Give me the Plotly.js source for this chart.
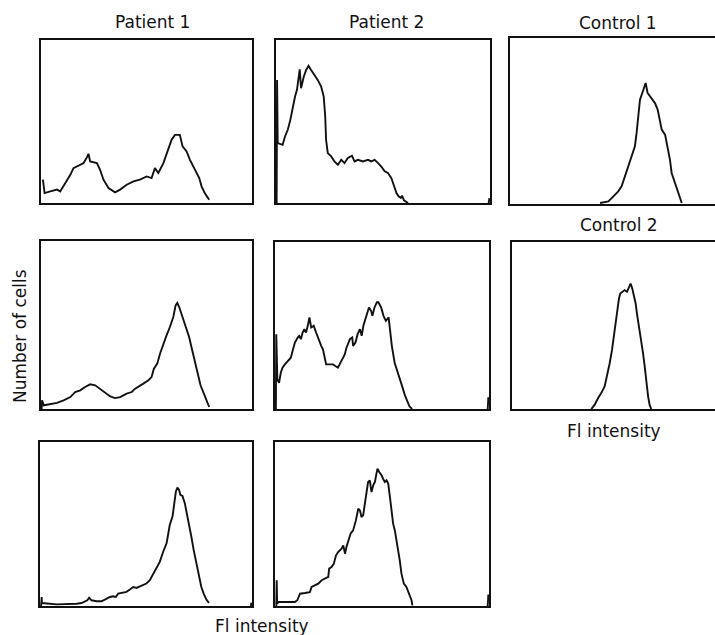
<!DOCTYPE html>
<html>
<head>
<meta charset="utf-8">
<script src="https://cdn.plot.ly/plotly-3.0.1.min.js"></script>
<style>
  html, body { margin: 0; padding: 0; overflow: hidden; background: #fff; }
  #chart { width: 724px; height: 635px; }
</style>
</head>
<body>
<div id="chart"></div>
<script>
// Fluorescence-intensity channel (0-100 % of axis) and relative cell counts (0-100 % of axis)
// null entries separate the small end-of-scale blip from the main histogram
const patient1_a_x = [0.9,1.7,4.4,7.6,9.1,11.5,13.9,15.4,17.8,20.2,22.0,22.5,23.3,26.5,28.0,29.6,32.0,35.1,37.5,40.6,43.8,46.9,50.1,52.4,54.0,55.6,58.0,60.3,61.9,63.5,65.8,67.1,69.0,70.6,72.9,75.0,76.1,77.6,79.7];
const patient1_a_y = [14.3,6.1,7.1,8.2,7.1,12.2,17.3,21.4,22.9,24.5,28.6,30.2,25.5,24.5,20.4,14.3,9.2,6.5,8.2,11.2,13.3,14.3,16.3,15.3,21.4,18.4,24.5,32.7,38.8,41.8,41.8,34.7,31.6,26.5,20.4,15.3,10.2,6.1,2.0];

const patient2_a_x = [0.3,0.5,0.8,3.1,4.2,5.5,6.7,7.8,8.9,9.8,10.5,11.1,11.7,13.0,14.1,15.2,16.4,18.0,19.5,21.1,22.3,23.0,23.4,24.2,25.8,27.3,28.9,30.5,32.0,33.6,35.5,36.7,38.3,40.6,43.0,44.5,46.1,47.7,49.2,50.8,52.3,53.9,55.2,56.3,57.3,58.3,58.9,59.8,61.7,null,99.4,99.5,99.7];
const patient2_a_y = [0,75.5,36.7,35.7,40.8,44.9,51.0,59.2,65.3,69.4,77.6,82.0,70.4,77.6,81.6,84.1,81.6,78.6,75.5,71.4,65.3,53.1,38.8,30.6,28.6,25.5,23.5,26.5,24.5,27.6,29.0,25.5,26.5,25.5,26.5,25.5,26.5,24.5,22.4,19.4,18.4,15.3,10.2,6.1,4.1,3.1,4.5,1.6,0,null,0,3,3];

const control1_x = [42.7,46.6,49.0,51.3,52.9,54.5,56.1,57.7,59.2,60.0,60.8,61.6,62.7,63.7,64.3,65.2,67.1,68.7,70.0,71.1,71.9,73.5,74.7,75.8,76.6,77.9,79.0,80.1,81.4];
const control1_y = [0.6,1.6,4.6,7.6,10.6,16.7,22.7,28.7,34.7,42.8,54.8,62.9,66.9,70.5,72.9,66.9,63.9,60.8,56.8,50.8,44.8,41.8,34.7,26.7,18.7,13.7,8.6,4.6,0.6];

const patient1_b_x = [0.3,0.5,1.3,4.4,7.6,10.7,13.9,16.2,18.6,20.9,23.3,25.7,28.0,30.4,32.8,35.1,37.5,40.6,43.0,44.6,46.1,48.5,50.9,52.4,53.5,55.1,56.4,58.0,59.5,61.1,62.7,63.8,64.6,65.5,67.1,68.7,70.2,71.3,72.9,74.5,75.6,77.2,78.4,79.7];
const patient1_b_y = [0,5.2,2.2,2.8,3.6,5.2,7.1,10.1,11.1,13.1,14.7,14.1,12.1,10.1,7.5,6.5,7.1,9.1,10.1,12.1,13.1,15.1,17.1,19.0,24.0,27.0,32.9,38.9,43.8,48.8,54.8,61.7,63.1,60.7,54.8,48.8,42.9,36.9,29.0,21.0,14.1,9.1,5.2,1.2];

const patient2_b_x = [0.4,0.6,1.1,1.9,2.7,3.5,4.6,5.8,7.4,8.2,9.3,10.6,11.3,12.1,12.9,13.7,14.5,15.3,16.1,16.9,18.1,19.2,20.3,21.6,22.4,23.1,23.9,25.5,27.1,28.2,29.4,30.2,31.3,32.6,33.4,34.2,35.0,36.1,36.5,37.6,38.6,39.7,40.5,41.3,42.0,42.8,43.9,44.9,45.5,46.5,47.6,48.3,49.6,50.7,51.8,53.1,53.9,54.6,55.9,57.0,58.1,59.4,60.6,61.7,62.8,64.1,null,99.4,99.5,99.7];
const patient2_b_y = [0,44.8,17.7,15.7,21.7,24.7,26.7,28.7,30.7,34.7,39.8,42.8,43.8,41.8,45.8,47.8,45.8,49.8,54.8,48.8,49.8,45.8,41.8,37.8,35.7,31.7,26.7,26.7,26.7,25.7,24.7,26.7,29.7,32.7,36.7,38.8,41.8,42.8,37.8,39.8,44.8,47.8,43.8,49.8,52.8,56.8,60.8,58.8,55.8,60.8,63.9,63.9,60.8,55.8,52.8,54.8,45.8,37.8,27.7,23.7,19.7,13.7,8.6,4.6,1.6,0,null,0,7,7];

const control2_x = [37.6,39.2,40.8,42.3,43.9,45.0,46.3,47.4,48.2,49.1,49.9,50.7,51.3,52.3,53.4,54.5,55.5,56.2,57.0,57.7,58.6,59.2,60.2,61.3,62.1,62.9,63.7,64.5,65.2,66.0];
const control2_y = [0,2.6,6.6,9.5,13.5,19.5,27.4,35.4,43.3,51.3,59.2,66.2,69.2,70.2,71.2,70.2,73.2,75.1,72.2,68.2,63.2,57.3,49.3,41.4,33.4,25.4,15.5,7.6,2.6,0];

const patient1_c_x = [0.5,0.8,0.9,7.8,11.0,14.1,17.3,19.6,20.4,22.3,23.2,24.3,26.7,29.0,30.6,33.0,34.5,35.8,36.9,39.2,40.8,42.4,44.0,45.5,47.1,48.7,50.2,51.8,53.4,54.9,56.5,58.1,59.7,60.4,61.2,62.5,63.3,64.1,64.8,65.6,66.2,67.2,68.3,69.4,70.3,71.4,72.5,73.8,75.0,76.1,77.2,78.5,79.7,null,99.5,99.7];
const patient1_c_y = [0,5.5,1.8,1.0,1.0,1.4,1.4,1.8,2.4,3.5,5.1,3.5,2.9,2.9,3.9,5.5,5.9,5.5,7.6,8.0,8.6,10.0,11.6,11.0,12.0,12.7,13.7,15.7,19.8,22.9,26.9,33.1,38.2,43.3,49.4,54.5,62.7,69.8,72.2,70.8,67.8,67.1,62.7,54.5,48.4,42.2,34.1,25.9,17.8,11.6,7.6,3.9,1.8,null,0,2];

const patient2_c_x = [0.6,0.8,1.0,1.6,4.7,7.0,9.3,10.4,11.7,14.0,16.3,17.1,18.7,20.2,21.8,23.3,24.9,25.3,26.4,27.5,28.5,29.5,31.1,31.9,32.7,33.4,34.7,35.3,36.5,37.8,38.9,39.7,40.4,41.2,42.0,42.8,43.5,44.3,45.1,45.9,46.7,47.4,47.9,48.7,49.8,50.5,51.3,52.1,52.9,53.7,54.4,55.2,56.0,56.8,57.5,58.3,59.1,60.2,61.4,62.7,63.8,64.2,null,99.4,99.5,99.7];
const patient2_c_y = [0,15.7,1.4,2.4,2.4,2.4,2.4,3.5,7.5,7.9,8.5,11.6,12.6,13.6,15.7,16.7,17.7,22.8,23.8,25.8,30.9,32.9,35.0,37.0,31.9,36.0,41.1,44.1,46.1,52.2,59.3,58.3,54.3,55.3,62.4,70.5,75.6,76.6,69.5,73.6,75.6,80.7,83.7,81.7,79.7,77.6,75.6,76.6,74.6,66.5,58.3,50.2,46.1,40.0,33.9,27.8,19.7,13.6,11.6,7.5,3.5,0.4,null,0,7,7];

const panelTitles = ["Patient 1", "Patient 2", "Control 1", "Control 2"];
const yTitle = "Number of cells";
const xTitle = "Fl intensity";

const W = 724, H = 635;
const panels = [
  {x: patient1_a_x, y: patient1_a_y, box: [41, 252, 40, 203]},
  {x: patient2_a_x, y: patient2_a_y, box: [276, 490, 40, 203]},
  {x: control1_x,   y: control1_y,   box: [510, 721, 38, 204]},
  {x: patient1_b_x, y: patient1_b_y, box: [41, 252, 241, 409]},
  {x: patient2_b_x, y: patient2_b_y, box: [275, 489, 242, 409]},
  {x: control2_x,   y: control2_y,   box: [512, 723, 242, 409]},
  {x: patient1_c_x, y: patient1_c_y, box: [40, 252, 442, 606]},
  {x: patient2_c_x, y: patient2_c_y, box: [275, 489, 442, 606]}
];

const FONT = "DejaVu Sans, sans-serif";
const traces = [];
const layout = {
  width: W, height: H,
  margin: {l: 0, r: 0, t: 0, b: 0},
  paper_bgcolor: "#fff", plot_bgcolor: "#fff",
  showlegend: false,
  font: {family: FONT, size: 17, color: "#111"},
  annotations: []
};

panels.forEach((p, i) => {
  const n = i + 1;
  const sfx = n === 1 ? "" : String(n);
  traces.push({
    x: p.x, y: p.y, type: "scatter", mode: "lines", connectgaps: false,
    line: {color: "#111", width: 1.9},
    xaxis: "x" + sfx, yaxis: "y" + sfx,
    hoverinfo: "skip"
  });
  const [l, r, t, b] = p.box;
  const axCommon = {showline: true, mirror: true, linecolor: "#111", linewidth: 1.8,
    showgrid: false, zeroline: false, showticklabels: false, ticks: "", fixedrange: true};
  layout["xaxis" + sfx] = Object.assign({}, axCommon, {domain: [l / W, r / W], range: [0, 100], anchor: "y" + sfx});
  layout["yaxis" + sfx] = Object.assign({}, axCommon, {domain: [1 - b / H, 1 - t / H], range: [0, 100], anchor: "x" + sfx});
});

function addText(text, px, py, angle) {
  layout.annotations.push({text: text, x: px / W, y: 1 - py / H, xref: "paper", yref: "paper",
    xanchor: "center", yanchor: "middle", showarrow: false, textangle: angle || 0,
    font: {family: FONT, size: 17, color: "#111"}});
}
addText(panelTitles[0], 152, 22);
addText(panelTitles[1], 386, 22);
addText(panelTitles[2], 618, 23);
addText(panelTitles[3], 619, 225);
addText(xTitle, 614, 431);
addText(xTitle, 262, 626);
addText(yTitle, 20, 336, -90);

Plotly.newPlot("chart", traces, layout, {staticPlot: true, displayModeBar: false});
</script>
</body>
</html>
